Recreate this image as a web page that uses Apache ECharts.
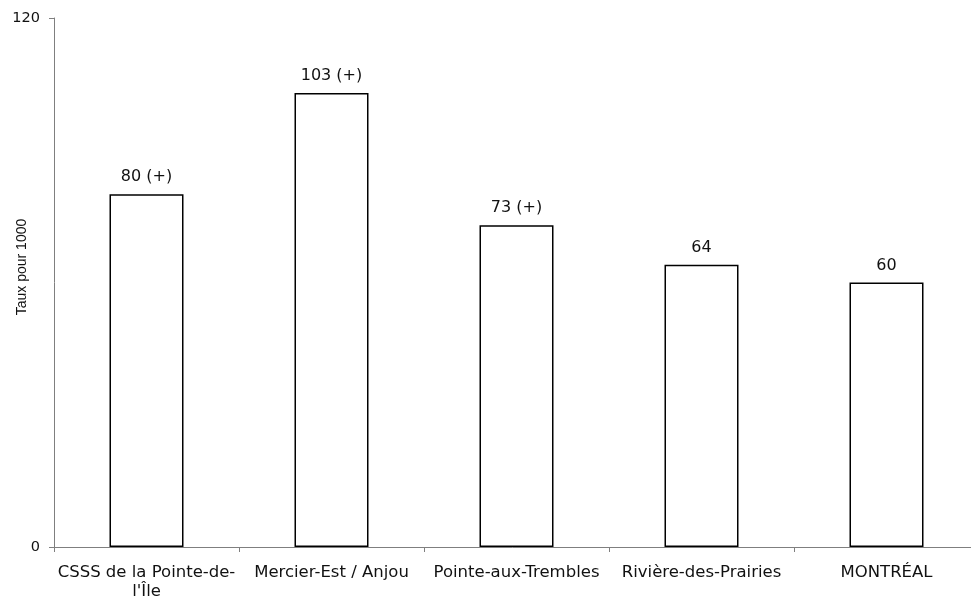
<!DOCTYPE html>
<html>
<head>
<meta charset="utf-8">
<script src="https://cdn.jsdelivr.net/npm/echarts@6/dist/echarts.min.js"></script>
<style>
  html, body { margin: 0; padding: 0; background: #fff; }
  #chart { width: 971px; height: 600px; }
</style>
</head>
<body>
<div id="chart"></div>
<script>
// Territoires comparés
const categories = [
  "CSSS de la Pointe-de-\nl'Île",
  "Mercier-Est / Anjou",
  "Pointe-aux-Trembles",
  "Rivière-des-Prairies",
  "MONTRÉAL"
];
// Taux pour 1000
const values = [80, 103, 73, 64, 60];
// Écart significatif par rapport à Montréal
const significant = [true, true, true, false, false];
const yTicks = [0, 120];
const yTitle = "Taux pour 1000";

const labelFont = "'DejaVu Sans', Verdana, sans-serif";

const chart = echarts.init(document.getElementById('chart'), null, { renderer: 'canvas' });

chart.setOption({
  animation: false,
  backgroundColor: '#ffffff',
  // the plot area runs a little past the right edge of the page
  grid: { left: 54, top: 18, width: 925, height: 529, outerBoundsMode: 'none', containLabel: false },
  xAxis: {
    type: 'category',
    data: categories,
    axisLine: { lineStyle: { color: '#7f7f7f', width: 1 } },
    axisTick: { show: true, length: 5, lineStyle: { color: '#7f7f7f' } },
    axisLabel: {
      margin: 16,
      color: '#111',
      fontFamily: labelFont,
      fontSize: 16.5,
      lineHeight: 19,
      interval: 0
    },
    splitLine: { show: false }
  },
  yAxis: {
    type: 'value',
    min: yTicks[0],
    max: yTicks[yTicks.length - 1],
    interval: yTicks[1] - yTicks[0],
    axisLine: { show: true, lineStyle: { color: '#7f7f7f', width: 1 } },
    axisTick: { show: true, length: 5, lineStyle: { color: '#7f7f7f' } },
    axisLabel: {
      margin: 14,
      color: '#111',
      fontFamily: labelFont,
      fontSize: 14.5
    },
    splitLine: { show: false }
  },
  graphic: [{
    type: 'text',
    x: 22,
    y: 267,
    rotation: Math.PI / 2,
    style: {
      text: yTitle,
      fill: '#111',
      font: "14px 'Liberation Sans', Arial, sans-serif",
      align: 'center',
      verticalAlign: 'middle'
    }
  }],
  series: [{
    type: 'bar',
    data: values,
    barWidth: '40%',
    itemStyle: {
      color: '#ffffff',
      borderColor: '#000000',
      borderWidth: 1.5
    },
    label: {
      show: true,
      position: 'top',
      distance: 9,
      color: '#111',
      fontFamily: labelFont,
      fontSize: 16,
      formatter: p => p.value + (significant[p.dataIndex] ? ' (+)' : '')
    }
  }]
});
</script>
</body>
</html>
